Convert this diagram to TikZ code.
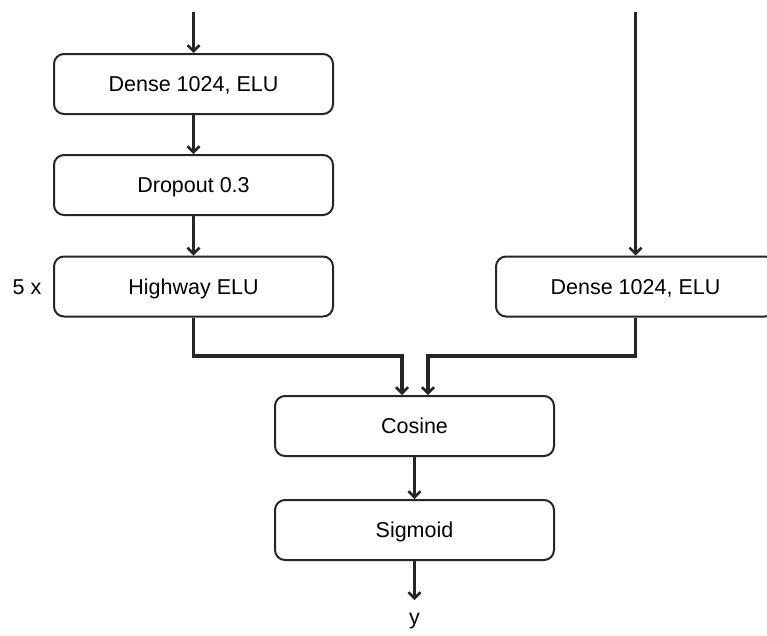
\documentclass[tikz,border=0pt]{standalone}
\usepackage{fontspec}
\setmainfont{Liberation Sans}
\usetikzlibrary{arrows.meta}
\begin{document}
\begin{tikzpicture}[x=1pt,y=-1pt,
  box/.style={draw=black!85,line width=2pt,rounded corners=10pt,minimum width=279pt,minimum height=60pt,inner sep=0pt,text height=15.5pt,text depth=0pt,font=\fontsize{21.5}{25}\selectfont},
  lbl/.style={inner sep=0pt,font=\fontsize{21.5}{25}\selectfont},
  conn/.style={draw=black!85,line width=3.4pt,-{Straight Barb[length=6pt,width=12pt,line width=2.6pt]}}]
\useasboundingbox (0,0) rectangle (767,635);
\begin{scope}
\clip (0,0) rectangle (767,635);
\node[box] (d1) at (193.5,84) {Dense 1024, ELU};
\node[box] (dr) at (193.5,185) {Dropout 0.3};
\node[box] (hw) at (193.5,286.5) {Highway ELU};
\node[box] (d2) at (635.5,286.5) {Dense 1024, ELU};
\node[box] (cs) at (414.5,426) {Cosine};
\node[box] (sg) at (414.5,530) {Sigmoid};
\end{scope}
\node[lbl,text height=15.5pt,text depth=0pt] (fx) at (27,286.5) {5 x};
\node[lbl] (yy) at (414.5,621) {y};
\coordinate (in1) at (193.5,12);
\coordinate (in2) at (635.5,12);
\coordinate (out) at (414.5,600);
\draw[conn] (in1) -- (d1.north);
\draw[conn] (d1) -- (dr);
\draw[conn] (dr) -- (hw);
\draw[conn] (in2) -- (d2.north);
\draw[conn,rounded corners=0pt] (hw.south) |- (402,356) -- ([xshift=-12.5pt]cs.north);
\draw[conn,rounded corners=0pt] (d2.south) |- (428,356) -- ([xshift=13.5pt]cs.north);
\draw[conn] (cs) -- (sg);
\draw[conn] (sg.south) -- (out);
\end{tikzpicture}
\end{document}
